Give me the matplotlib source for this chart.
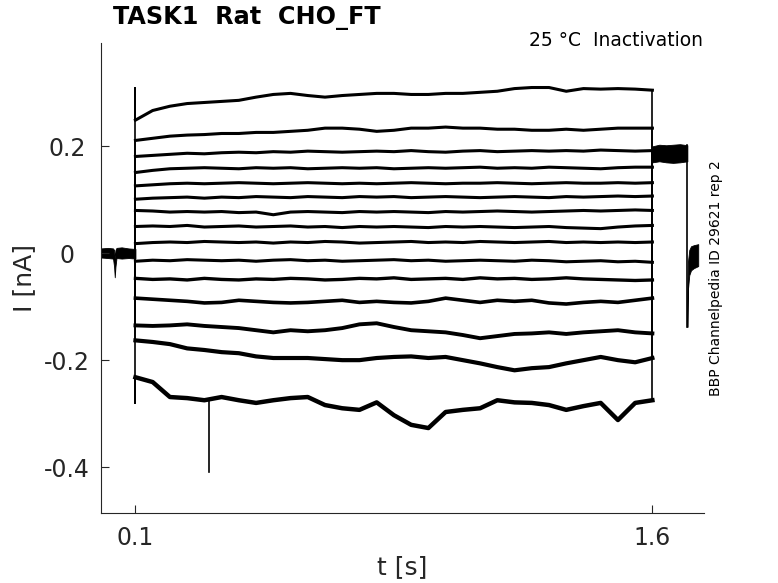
import matplotlib
matplotlib.use('Agg')
import matplotlib.pyplot as plt
import numpy as np

# sample grid of the test pulse (s)
pulse_t = [0.1 + 0.05 * k for k in range(31)]

# current traces during the pulse, top to bottom (nA)
traces = [
    [0.249, 0.267, 0.275, 0.280, 0.282, 0.284, 0.286, 0.292, 0.297, 0.299, 0.295, 0.292, 0.295, 0.297, 0.299, 0.299,
     0.297, 0.297, 0.299, 0.299, 0.301, 0.303, 0.308, 0.310, 0.310, 0.303, 0.308, 0.307, 0.308, 0.307, 0.305],
    [0.211, 0.215, 0.219, 0.221, 0.222, 0.224, 0.224, 0.226, 0.226, 0.228, 0.230, 0.234, 0.234, 0.232, 0.228, 0.230,
     0.234, 0.234, 0.236, 0.234, 0.234, 0.232, 0.232, 0.230, 0.230, 0.232, 0.230, 0.232, 0.234, 0.234, 0.234],
    [0.181, 0.183, 0.185, 0.187, 0.186, 0.188, 0.189, 0.188, 0.190, 0.189, 0.191, 0.190, 0.189, 0.190, 0.191, 0.190,
     0.192, 0.190, 0.189, 0.191, 0.192, 0.190, 0.191, 0.192, 0.191, 0.192, 0.191, 0.193, 0.192, 0.191, 0.192],
    [0.151, 0.155, 0.158, 0.159, 0.160, 0.159, 0.158, 0.160, 0.159, 0.160, 0.158, 0.159, 0.160, 0.159, 0.160, 0.158,
     0.159, 0.160, 0.159, 0.160, 0.161, 0.159, 0.160, 0.159, 0.161, 0.160, 0.159, 0.158, 0.160, 0.161, 0.161],
    [0.126, 0.128, 0.130, 0.131, 0.130, 0.131, 0.132, 0.131, 0.130, 0.131, 0.132, 0.131, 0.130, 0.131, 0.130, 0.131,
     0.132, 0.131, 0.130, 0.131, 0.131, 0.132, 0.131, 0.130, 0.131, 0.132, 0.131, 0.131, 0.132, 0.131, 0.132],
    [0.101, 0.103, 0.104, 0.105, 0.103, 0.105, 0.104, 0.106, 0.105, 0.104, 0.106, 0.105, 0.104, 0.106, 0.105, 0.106,
     0.104, 0.105, 0.106, 0.105, 0.104, 0.105, 0.106, 0.105, 0.104, 0.106, 0.105, 0.106, 0.107, 0.106, 0.107],
    [0.080, 0.079, 0.077, 0.078, 0.077, 0.078, 0.076, 0.077, 0.072, 0.077, 0.078, 0.077, 0.076, 0.078, 0.077, 0.078,
     0.077, 0.076, 0.078, 0.077, 0.078, 0.079, 0.078, 0.077, 0.078, 0.079, 0.080, 0.079, 0.080, 0.081, 0.080],
    [0.050, 0.051, 0.050, 0.052, 0.049, 0.050, 0.051, 0.049, 0.050, 0.051, 0.049, 0.050, 0.048, 0.050, 0.049, 0.050,
     0.049, 0.048, 0.050, 0.049, 0.050, 0.049, 0.048, 0.049, 0.050, 0.048, 0.047, 0.046, 0.049, 0.051, 0.052],
    [0.018, 0.020, 0.021, 0.020, 0.022, 0.021, 0.020, 0.021, 0.019, 0.021, 0.020, 0.022, 0.021, 0.019, 0.020, 0.021,
     0.022, 0.020, 0.021, 0.020, 0.022, 0.021, 0.020, 0.021, 0.022, 0.020, 0.021, 0.020, 0.021, 0.020, 0.021],
    [-0.015, -0.013, -0.014, -0.012, -0.013, -0.014, -0.013, -0.015, -0.013, -0.012, -0.014, -0.013, -0.015, -0.014,
     -0.013, -0.012, -0.014, -0.013, -0.015, -0.014, -0.013, -0.014, -0.015, -0.013, -0.014, -0.016, -0.015, -0.014,
     -0.016, -0.015, -0.017],
    [-0.047, -0.049, -0.048, -0.050, -0.047, -0.049, -0.050, -0.048, -0.049, -0.047, -0.048, -0.050, -0.049, -0.047,
     -0.048, -0.046, -0.049, -0.048, -0.047, -0.049, -0.046, -0.048, -0.047, -0.049, -0.048, -0.046, -0.048, -0.049,
     -0.050, -0.051, -0.050],
    [-0.084, -0.086, -0.088, -0.090, -0.093, -0.092, -0.088, -0.090, -0.092, -0.093, -0.092, -0.090, -0.088, -0.092,
     -0.090, -0.092, -0.093, -0.090, -0.084, -0.088, -0.092, -0.088, -0.090, -0.088, -0.093, -0.095, -0.092, -0.090,
     -0.092, -0.088, -0.084],
    [-0.135, -0.136, -0.135, -0.133, -0.136, -0.138, -0.140, -0.144, -0.148, -0.144, -0.146, -0.144, -0.140, -0.133,
     -0.131, -0.138, -0.144, -0.146, -0.148, -0.153, -0.159, -0.155, -0.151, -0.150, -0.148, -0.151, -0.148, -0.146,
     -0.144, -0.148, -0.150],
    [-0.163, -0.166, -0.170, -0.178, -0.181, -0.185, -0.187, -0.193, -0.196, -0.196, -0.196, -0.198, -0.200, -0.200,
     -0.196, -0.194, -0.193, -0.196, -0.194, -0.200, -0.206, -0.213, -0.219, -0.215, -0.213, -0.206, -0.200, -0.194,
     -0.200, -0.204, -0.196],
    [-0.232, -0.241, -0.269, -0.271, -0.275, -0.269, -0.275, -0.280, -0.275, -0.271, -0.269, -0.284, -0.290, -0.293,
     -0.279, -0.303, -0.321, -0.327, -0.297, -0.293, -0.290, -0.275, -0.279, -0.280, -0.284, -0.293, -0.286, -0.280,
     -0.312, -0.280, -0.275],
]

# capacitive peak at pulse onset per trace (nA)
onset_peak = [0.31, 0.211, 0.181, 0.151, 0.126, 0.101, 0.080, 0.050, 0.018, -0.015, -0.047, -0.084, -0.135, -0.163, -0.28]

# single spike in the lowest trace
spike_t = 0.312
spike_v = -0.41

# holding before the pulse: band edges of the overlaid sweeps
pre_t = [0.0, 0.02, 0.035, 0.038, 0.04, 0.042, 0.045, 0.06, 0.08, 0.1]
pre_hi = [0.009, 0.010, 0.009, 0.006, -0.010, 0.006, 0.010, 0.011, 0.009, 0.008]
pre_lo = [-0.008, -0.009, -0.010, -0.025, -0.045, -0.025, -0.009, -0.010, -0.009, -0.010]

# inactivation step after the pulse
post_t = [1.6, 1.62, 1.64, 1.66, 1.68, 1.7015]
post_hi = [0.200, 0.203, 0.202, 0.203, 0.204, 0.202]
post_lo = [0.170, 0.172, 0.170, 0.169, 0.170, 0.172]

# tail after the step
tail_t = [1.7015, 1.703, 1.707, 1.712, 1.72, 1.733]
tail_hi = [-0.069, -0.017, 0.006, 0.013, 0.015, 0.017]
tail_lo = [-0.138, -0.069, -0.041, -0.032, -0.028, -0.024]

line_w = [2.2, 2.2, 2.2, 2.2, 2.2, 2.2, 2.2, 2.2, 2.2, 2.2, 2.4, 2.6, 2.8, 3.0, 3.2]

fig = plt.figure(figsize=(7.78, 5.83), dpi=100)
ax = fig.add_axes([0.1298, 0.12, 0.7752, 0.806])

# holding, step and tail bands
ax.fill_between(pre_t, pre_lo, pre_hi, color='k', lw=0.6)
ax.fill_between(post_t, post_lo, post_hi, color='k', lw=0.6)
ax.fill_between(tail_t, tail_lo, tail_hi, color='k', lw=0.6)
ax.plot([post_t[-1], post_t[-1]], [post_hi[-1], tail_lo[0]], color='k', lw=1.2)

pre_mid = 0.5 * (pre_hi[-1] + pre_lo[-1])
post_mid = 0.5 * (post_hi[0] + post_lo[0])

for i, tr in enumerate(traces):
    ax.plot(pulse_t, tr, color='k', lw=line_w[i], solid_joinstyle='round')
    # onset and offset steps
    ax.plot([0.1, 0.1, 0.1], [pre_mid, onset_peak[i], tr[0]], color='k', lw=1.2)
    ax.plot([1.6, 1.6], [tr[-1], post_mid], color='k', lw=1.2)

# spike in the lowest trace
base = np.interp(spike_t, pulse_t, traces[-1])
ax.plot([spike_t, spike_t], [base, spike_v], color='k', lw=1.2)

ax.set_xlim(0, 1.75)
ax.set_ylim(-0.486, 0.393)
ax.set_xticks([0.1, 1.6])
ax.set_xticklabels(['0.1', '1.6'])
ax.set_yticks([-0.4, -0.2, 0, 0.2])
ax.set_yticklabels(['-0.4', '-0.2', '0', '0.2'])

grey = '#262626'
for s in ['top', 'right']:
    ax.spines[s].set_visible(False)
for s in ['left', 'bottom']:
    ax.spines[s].set_color(grey)
    ax.spines[s].set_linewidth(0.8)
ax.tick_params(direction='in', length=6, width=0.8, colors=grey, labelsize=17)
ax.tick_params(axis='y', pad=24.5)
ax.tick_params(axis='x', pad=9)
for lab in ax.get_yticklabels():
    lab.set_horizontalalignment('center')

ax.set_xlabel('t [s]', fontsize=18, color=grey, labelpad=4)
ax.set_ylabel('I [nA]', fontsize=18, color=grey, labelpad=6)

fig.text(113 / 778, 1 - 18 / 583, 'TASK1  Rat  CHO_FT', fontsize=17.2, fontweight='bold',
         ha='left', va='center', color='k')
fig.text(703 / 778, 1 - 41 / 583, '25 °C  Inactivation', fontsize=13.5, ha='right', va='center', color='k')
fig.text(716 / 778, 1 - 278 / 583, 'BBP Channelpedia ID 29621 rep 2', fontsize=10, rotation=90,
         ha='center', va='center', color='k')

fig.savefig('out.png', dpi=100)
